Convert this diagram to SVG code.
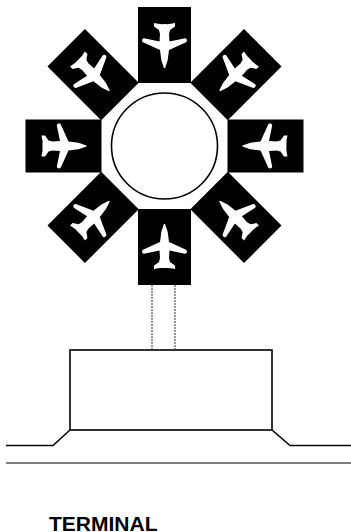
<svg xmlns="http://www.w3.org/2000/svg" width="351" height="532" viewBox="0 0 351 532">
<style>
.l{fill:none;stroke:#000;stroke-width:1.6}
.g{fill:none;stroke:#000;stroke-width:1.1}
.d{fill:none;stroke:#333;stroke-width:1;stroke-dasharray:2 1}
.t{font:bold 21px "Liberation Sans",Arial,sans-serif;fill:#000}
</style>
<defs>
<g id="gate">
<rect x="-26.500" y="-139" width="53" height="76" fill="#000"/>
<path fill="#fff" d="M-10.500 -123 Q-5 -121.500 0 -122 Q5 -121.500 10.500 -123 L10.500 -119.500 L5.500 -116 L4.500 -112 L5 -104.500 L20.500 -107.700 C23 -107.500 23 -104 21 -103.500 L4.500 -96 L3.200 -86 L0.600 -78 L-0.600 -78 L-3.200 -86 L-4.500 -96 L-21 -103.500 C-23 -104 -23 -107.500 -20.500 -107.700 L-5 -104.500 L-4.500 -112 L-5.500 -116 L-10.500 -119.500 Z"/>
</g>
</defs>
<g id="gate-top"><use href="#gate" transform="translate(164.500 146)"/></g>
<g id="gate-top-right"><use href="#gate" transform="translate(164.500 146) rotate(45)"/></g>
<g id="gate-right"><use href="#gate" transform="translate(164.500 146) rotate(90)"/></g>
<g id="gate-bottom-right"><use href="#gate" transform="translate(164.500 146) rotate(135)"/></g>
<g id="gate-bottom"><use href="#gate" transform="translate(164.500 146) rotate(180)"/></g>
<g id="gate-bottom-left"><use href="#gate" transform="translate(164.500 146) rotate(225)"/></g>
<g id="gate-left"><use href="#gate" transform="translate(164.500 146) rotate(270)"/></g>
<g id="gate-top-left"><use href="#gate" transform="translate(164.500 146) rotate(315)"/></g>
<g id="hub"><circle class="l" cx="164.500" cy="146" r="53"/></g>
<g id="terminal"><rect class="l" x="70" y="350" width="202" height="80"/></g>
<g id="connectors">
<path class="d" d="M152 285V350M175 285V350"/>
<path class="l" d="M6 445.500H53L70 430M272 430L290 445.500H351"/>
<path class="g" d="M6 463H351"/>
</g>
<g id="label"><text class="t" x="49" y="530.500">TERMINAL</text></g>
</svg>
